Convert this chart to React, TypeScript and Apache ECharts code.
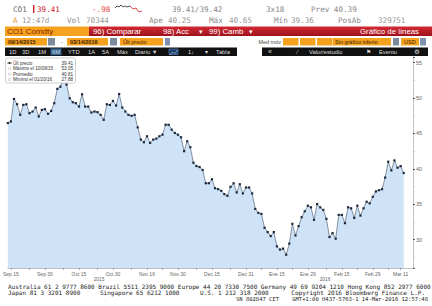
import React, { useEffect, useRef } from "react";
import * as echarts from "echarts";

// ---- data ----
const startDate = "2015-09-14";
const endDate = "2016-03-14";
const holidays = ["2015-12-25", "2016-01-01"];

const prices = [
  46.47, 46.7, 49.87, 49.13, 47.63, 49.03, 49.13, 47.87, 48.1, 48.66,
  47.4, 48.33, 48.43, 47.77, 48.19, 49.27, 51.3, 51.6, 53.05, 51.9,
  49.97, 49.41, 49.27, 48.8, 50.53, 48.8, 48.8, 47.96, 48.1, 48.01,
  47.63, 46.93, 49.13, 49.03, 49.59, 48.94, 50.57, 48.66, 48.1, 47.63,
  47.49, 47.63, 45.86, 44.13, 43.76, 44.6, 43.67, 44.13, 44.27, 44.6,
  44.83, 46.23, 46.23, 45.53, 45.07, 44.83, 44.46, 42.5, 43.9, 43.06,
  40.87, 40.4, 40.26, 39.84, 37.97, 37.97, 38.53, 37.27, 37.13, 36.9,
  36.43, 36.2, 37.46, 37.97, 36.67, 37.83, 36.53, 37.37, 37.37, 36.53,
  34.34, 33.78, 33.64, 31.68, 31.07, 30.51, 31.07, 29.06, 28.6, 28.74,
  27.88, 29.44, 32.24, 30.6, 31.91, 33.17, 34.01, 34.8, 34.57, 32.8,
  35.03, 34.57, 34.2, 32.94, 30.37, 30.93, 30.14, 33.5, 33.5, 32.33,
  34.57, 34.43, 33.08, 34.8, 33.4, 34.43, 35.36, 35.13, 36.06, 36.81,
  36.99, 37.13, 38.77, 41.01, 39.79, 41.19, 40.17, 40.39, 39.41,
];

const tickDates = [
  "2015-09-15", "2015-09-30", "2015-10-15", "2015-10-30", "2015-11-16",
  "2015-11-30", "2015-12-15", "2015-12-31", "2016-01-15", "2016-01-29",
  "2016-02-15", "2016-02-29", "2016-03-11",
];
const tickLabels = [
  "Sep 15", "Sep 30", "Oct 15", "Oct 30", "Nov 16", "Nov 30", "Dec 15",
  "Dec 31", "Ene 15", "Ene 29", "Feb 15", "Feb 29", "Mar 11",
];
const yearLabels = ["2015", "2016"];
const averagePrice = 40.81;

const headerRow1 = { ticker: "CO1", change: "-.98", bidAsk: "39.41/39.42", size: "3x18", prev: "40.39" };
const headerRow2 = { time: "12:47d", vol: "70344", open: "40.25", high: "40.65", low: "39.36", oi: "329751" };

const footerLine1 =
  "Australia 61 2 9777 8600 Brazil 5511 2395 9000 Europe 44 20 7330 7500 Germany 49 69 9204 1210 Hong Kong 852 2977 6000";

// ---- helpers ----
function tradingDays(): string[] {
  const out: string[] = [];
  const d = new Date(startDate + "T00:00:00Z");
  const end = new Date(endDate + "T00:00:00Z");
  while (d <= end) {
    const day = d.getUTCDay();
    const s = d.toISOString().slice(0, 10);
    if (day !== 0 && day !== 6 && holidays.indexOf(s) < 0) out.push(s);
    d.setUTCDate(d.getUTCDate() + 1);
  }
  return out;
}
const fmtShort = (s: string) => `${s.slice(5, 7)}/${s.slice(8, 10)}/${s.slice(2, 4)}`;

const MONO = '"DejaVu Sans Mono", monospace';
const SANS = '"Liberation Sans", Arial, sans-serif';
const DSANS = '"DejaVu Sans", sans-serif';

function T(x: number, y: number, text: string, fill: string, font: string, align = "left", z = 20) {
  return {
    type: "text",
    x,
    y,
    z,
    silent: true,
    style: { text, fill, font, align, verticalAlign: "middle", textAlign: align, textVerticalAlign: "middle" },
  };
}
function R(x: number, y: number, w: number, h: number, fill: any, z = 10, stroke?: string, r = 0) {
  return {
    type: "rect",
    z,
    silent: true,
    shape: { x, y, width: w, height: h, r },
    style: { fill, stroke: stroke || null, lineWidth: stroke ? 0.6 : 0 },
  };
}

export default function App() {
  const ref = useRef<HTMLDivElement>(null);

  useEffect(() => {
    document.body.style.margin = "0";
    if (!ref.current) return;
    const chart = echarts.init(ref.current, null, { renderer: "svg" });

    const dates = tradingDays();
    const pad = 3;
    const cats = dates.concat(Array.from({ length: pad }, (_, i) => "pad" + i));
    const series = prices.concat(Array.from({ length: pad }, () => null as any));
    const labelIdx = tickDates.map((d) => dates.indexOf(d));
    const tickSet = new Set<number>(labelIdx);
    for (let i = 0; i < labelIdx.length - 1; i++) tickSet.add(Math.round((labelIdx[i] + labelIdx[i + 1]) / 2));

    const last = prices[prices.length - 1];
    let maxI = 0, minI = 0;
    prices.forEach((p, i) => {
      if (p > prices[maxI]) maxI = i;
      if (p < prices[minI]) minI = i;
    });

    const orange = "#f5a21e";
    const btn = "#7d8c9c";
    const headerFont = `7.6px ${MONO}`;
    const small = `6px ${SANS}`;
    const g: any[] = [];

    // Row 1
    g.push(T(13, 9, headerRow1.ticker, "#666", headerFont));
    g.push(R(33, 5, 1.4, 8, "#d0202a"));
    g.push(T(37, 9, last.toFixed(2), "#d0202a", headerFont));
    g.push(T(92, 9, headerRow1.change, "#e04848", headerFont));
    g.push({
      type: "polyline", z: 20, silent: true,
      shape: { points: [[115, 8], [117, 6], [119, 7], [121, 5], [123, 7], [125, 6], [127, 7], [130, 6]] },
      style: { stroke: "#222", lineWidth: 0.8, fill: null },
    });
    g.push({
      type: "polyline", z: 20, silent: true,
      shape: { points: [[130, 6], [133, 9], [136, 8], [139, 12], [142, 11]] },
      style: { stroke: "#d0202a", lineWidth: 0.8, fill: null },
    });
    g.push(T(172, 9, headerRow1.bidAsk, "#888", headerFont));
    g.push(T(266, 9, headerRow1.size, "#888", headerFont));
    g.push(T(311, 9, "Prev " + headerRow1.prev, "#888", headerFont));

    // Row 2
    g.push(T(13, 20, "A", "#e59a3c", headerFont));
    g.push(T(22, 20, headerRow2.time, "#999", headerFont));
    g.push(T(67, 20, "Vol", "#888", headerFont));
    g.push(T(86, 20, headerRow2.vol, "#999", headerFont));
    g.push(T(149, 20, "Ape", "#888", headerFont));
    g.push(T(168, 20, headerRow2.open, "#999", headerFont));
    g.push(T(209, 20, "Máx", "#888", headerFont));
    g.push(T(229, 20, headerRow2.high, "#999", headerFont));
    g.push(T(274, 20, "Mín", "#888", headerFont));
    g.push(T(291, 20, headerRow2.low, "#999", headerFont));
    g.push(T(338, 20, "PosAb", "#888", headerFont));
    g.push(T(378, 20, headerRow2.oi, "#999", headerFont));

    // Row 3
    g.push(R(5, 26.5, 84, 9.5, orange));
    g.push(T(7, 31.5, "CO1 Comdty", "#8b2500", `8px ${SANS}`));
    g.push(R(89, 26.5, 343, 9.5, new echarts.graphic.LinearGradient(0, 0, 0, 1, [
      { offset: 0, color: "#d42a35" }, { offset: 1, color: "#9e111c" },
    ])));
    const wf = `7.8px ${SANS}`;
    g.push(T(93, 31.5, "96) Comparar", "#fff", wf));
    g.push(T(163, 31.5, "98) Acc", "#fff", wf));
    g.push(T(199, 31.5, "▾", "#fff", `7px ${DSANS}`));
    g.push(T(209, 31.5, "99) Camb", "#fff", wf));
    g.push(T(249, 31.5, "▾", "#fff", `7px ${DSANS}`));
    g.push(T(419, 31.5, "Gráfico de líneas", "#fff", wf, "right"));

    // Row 4
    const r4y = 38, r4h = 7.5, r4c = 41.8;
    const of = `5.5px ${SANS}`;
    g.push(R(5, r4y, 42, r4h, orange));
    g.push(T(8, r4c, "09/14/2015", "#3a1a00", `bold ${of}`));
    g.push(R(48, r4y, 7, r4h, btn));
    g.push(T(61, r4c, "-", "#555", small));
    g.push(R(67, r4y, 41, r4h, orange));
    g.push(T(70, r4c, "03/14/2016", "#3a1a00", `bold ${of}`));
    g.push(R(110, r4y, 7, r4h, btn));
    g.push(R(120, r4y, 43, r4h, orange));
    g.push(T(123, r4c, "Últ precio", "#3a1a00", of));
    g.push(R(165, r4y, 5, r4h, "#8090b0"));
    g.push(T(281, r4c, "Med móv", "#444", of, "right"));
    g.push(R(283, r4y, 15.5, r4h, orange));
    g.push(R(300, r4y, 15.5, r4h, orange));
    g.push(R(317, r4y, 15.5, r4h, orange));
    g.push(R(333, r4y, 58, r4h, orange));
    g.push(T(335, r4c, "Sin gráfico inferio", "#3a1a00", of));
    g.push(R(393, r4y, 6, r4h, btn));
    g.push(R(401, r4y, 18, r4h, orange));
    g.push(T(404, r4c, "USD", "#3a1a00", of));
    g.push(R(420, r4y, 6, r4h, "#8090b0"));

    // Row 5
    const r5y = 47.5, r5h = 8.5, r5c = 51.8;
    g.push(R(5, r5y, 232, r5h, "#111"));
    g.push(R(262, r5y, 166, r5h, "#111"));
    g.push(R(50.5, r5y + 0.8, 11, r5h - 1.6, "#2f5f8f"));
    const bf = `5.8px ${SANS}`;
    const bc = "#ddd";
    [["1D", 9], ["3D", 22], ["1M", 38], ["6M", 52], ["YTD", 68], ["1A", 88], ["5A", 102], ["Máx", 117], ["Diario ▼", 135]].forEach(
      ([s, x]) => g.push(T(x as number, r5c, s as string, bc, bf))
    );
    g.push(R(169, r5y + 1.5, 9, 5.5, "#1d3c66", 11, "#5b8fd0"));
    g.push({
      type: "polyline", z: 12, silent: true,
      shape: { points: [[170, 55], [172.5, 52], [175, 53.5], [177.5, 50]] },
      style: { stroke: "#9fd0ff", lineWidth: 0.6, fill: null },
    });
    g.push(T(188, r5c, "1↓", bc, bf));
    g.push(T(205, r5c, "▾", bc, `6px ${DSANS}`));
    g.push(T(216, r5c, "Tabla", bc, bf));
    g.push(T(268, r5c, "«", bc, `7px ${SANS}`));
    g.push(T(297, r5c, "⁄", bc, bf));
    g.push(T(309, r5c, "Valor/estudio", bc, bf));
    g.push(T(366, r5c, "⚑", bc, `6px ${DSANS}`));
    g.push(T(379, r5c, "Evento", bc, bf));
    g.push(T(414, r5c, "⚙", bc, `6.5px ${DSANS}`));

    // Legend box
    const lf = `4.6px ${SANS}`;
    g.push(R(5.5, 58, 70, 25, "#fff", 100, "#b0b0b0", 2));
    const rows = [
      { y: 63, label: "Últ precio", v: last },
      { y: 68.6, label: "Máximo el " + fmtShort(dates[maxI]), v: prices[maxI] },
      { y: 74, label: "Promedio", v: averagePrice },
      { y: 79.5, label: "Mínimo el " + fmtShort(dates[minI]), v: prices[minI] },
    ];
    rows.forEach((r, i) => {
      if (i === 0) {
        g.push({ type: "line", z: 101, silent: true, shape: { x1: 7, y1: r.y, x2: 12, y2: r.y }, style: { stroke: "#333", lineWidth: 0.6 } });
        g.push(R(8.6, r.y - 0.9, 1.8, 1.8, "#222", 102));
      } else {
        g.push(R(8.5, r.y - 1, 2, 2, "#fff", 101, "#c8c8c8"));
      }
      g.push(T(13, r.y, r.label, "#333", lf, "left", 102));
      g.push(T(73, r.y, r.v.toFixed(2), "#333", lf, "right", 102));
    });

    // year labels
    g.push(T(99, 279.5, yearLabels[0], "#666", `4.8px ${SANS}`, "center"));
    g.push(T(325, 279.5, yearLabels[1], "#666", `4.8px ${SANS}`, "center"));

    // footer
    const ff = `6px ${MONO}`;
    const ff3 = `5.5px ${MONO}`;
    const fc = "#222";
    g.push(T(8, 286.5, footerLine1, fc, ff));
    g.push(T(8, 292.5, "Japan 81 3 3201 8900", fc, ff));
    g.push(T(100, 292.5, "Singapore 65 6212 1000", fc, ff));
    g.push(T(200, 292.5, "U.S. 1 212 318 2000", fc, ff));
    g.push(T(425, 292.5, "Copyright 2016 Bloomberg Finance L.P.", fc, ff, "right"));
    g.push(T(236, 298.5, "SN 802847 CET", fc, ff3));
    g.push(T(428, 298.5, "GMT+1:00 H437-5763-1 14-Mar-2016 12:57:48", fc, ff3, "right"));

    chart.setOption({
      animation: false,
      backgroundColor: "#fff",
      grid: { left: 5, right: 19, top: 57, bottom: 38, containLabel: false },
      xAxis: {
        type: "category",
        data: cats,
        boundaryGap: false,
        axisLine: { show: true, lineStyle: { color: "#999", width: 0.6 } },
        axisTick: { show: true, length: 2, interval: (i: number) => tickSet.has(i), lineStyle: { color: "#777", width: 0.6 } },
        axisLabel: {
          interval: (i: number) => labelIdx.indexOf(i) >= 0,
          formatter: (_v: string, i: number) => {
            const k = labelIdx.indexOf(i);
            return k >= 0 ? tickLabels[k] : "";
          },
          fontSize: 5,
          color: "#666",
          margin: 3,
          fontFamily: SANS,
        },
        splitLine: { show: false },
      },
      yAxis: {
        type: "value",
        position: "right",
        min: 26,
        max: 55.8,
        splitNumber: 5,
        axisLine: { show: true, lineStyle: { color: "#999", width: 0.6 } },
        axisTick: { show: true, length: 2, lineStyle: { color: "#333", width: 0.8 } },
        minorTick: { show: true, splitNumber: 2, length: 2, lineStyle: { color: "#bbb", width: 0.6 } },
        axisLabel: { fontSize: 5.5, color: "#666", margin: 3, showMinLabel: false, showMaxLabel: false, fontFamily: SANS },
        splitLine: { show: false },
      },
      series: [
        {
          type: "line",
          name: "Últ precio",
          data: series,
          symbol: "rect",
          symbolSize: 2.2,
          showSymbol: true,
          showAllSymbol: true,
          itemStyle: { color: "#1c2838" },
          lineStyle: { color: "#56657a", width: 0.7 },
          areaStyle: { color: "#cfe3f8", opacity: 1, origin: "start" },
          markLine: {
            silent: true,
            symbol: ["none", "none"],
            lineStyle: { opacity: 0 },
            data: [{ yAxis: last }],
            label: {
              show: true,
              position: "end",
              formatter: last.toFixed(2),
              backgroundColor: "#000",
              color: "#fff",
              fontSize: 5,
              padding: [1, 1.5, 0.5, 1.5],
              distance: 2,
              fontFamily: SANS,
            },
          },
        },
      ],
      graphic: { elements: g },
    });

    return () => chart.dispose();
  }, []);

  return <div ref={ref} style={{ width: 432, height: 306 }} />;
}
